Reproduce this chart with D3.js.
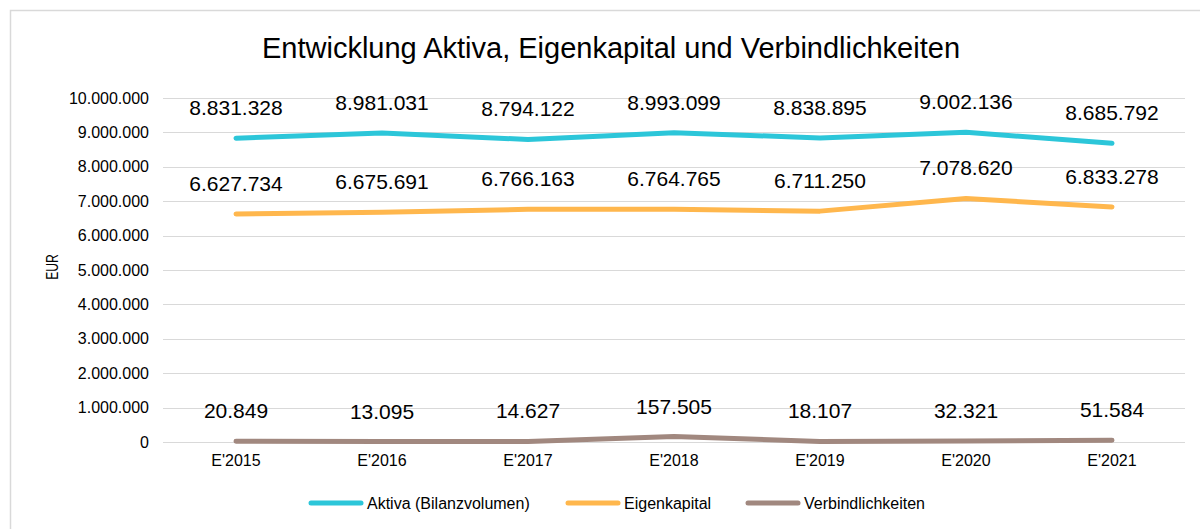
<!DOCTYPE html>
<html>
<head>
<meta charset="utf-8">
<script src="https://cdn.jsdelivr.net/npm/d3@7"></script>
<style>
    body { margin: 0; background: #fff; }
    svg { font-family: "Liberation Sans", Arial, sans-serif; display: block; }
    .grid line { stroke: #d9d9d9; stroke-width: 1; }
    .axis text { fill: #000; font-size: 16px; font-family: "Liberation Sans", Arial, sans-serif; }
</style>
</head>
<body>
<div id="chart-area"></div>
<script>
// Data
let categories = ["E'2015", "E'2016", "E'2017", "E'2018", "E'2019", "E'2020", "E'2021"];
let aktiva = [8831328, 8981031, 8794122, 8993099, 8838895, 9002136, 8685792];
let eigenkapital = [6627734, 6675691, 6766163, 6764765, 6711250, 7078620, 6833278];
let verbindlichkeiten = [20849, 13095, 14627, 157505, 18107, 32321, 51584];
let yTicks = [0, 1000000, 2000000, 3000000, 4000000, 5000000, 6000000, 7000000, 8000000, 9000000, 10000000];

let seriesNames = ["Aktiva (Bilanzvolumen)", "Eigenkapital", "Verbindlichkeiten"];
let seriesColors = ["#2cc6d9", "#ffb74d", "#a1887f"];

let series = [aktiva, eigenkapital, verbindlichkeiten].map(function (values, i) {
    return {name: seriesNames[i], color: seriesColors[i], values: values};
});

// SVG drawing area
let totalWidth = 1200, totalHeight = 529;
let margin = {top: 98, right: 15, bottom: 87, left: 163};
let width = totalWidth - margin.left - margin.right,
    height = totalHeight - margin.top - margin.bottom;

let root = d3.select("#chart-area").append("svg")
    .attr("width", totalWidth)
    .attr("height", totalHeight);

// chart border
root.append("rect")
    .attr("x", 10.5)
    .attr("y", 10.5)
    .attr("width", 1300)
    .attr("height", 600)
    .attr("fill", "none")
    .attr("stroke", "#d9d9d9")
    .attr("stroke-width", 1.5);

root.append("text")
    .attr("x", 611)
    .attr("y", 58)
    .attr("text-anchor", "middle")
    .attr("font-size", "29px")
    .text("Entwicklung Aktiva, Eigenkapital und Verbindlichkeiten");

let svg = root.append("g")
    .attr("transform", "translate(" + margin.left + "," + margin.top + ")");

// German number format
let locale = d3.formatLocale({decimal: ",", thousands: ".", grouping: [3], currency: ["", "€"]});
let fmt = locale.format(",d");

// Scales
let x = d3.scaleBand()
    .domain(categories)
    .range([0, width]);

let y = d3.scaleLinear()
    .domain([0, 10000000])
    .range([height, 0]);

// Gridlines
svg.append("g")
    .attr("class", "grid")
    .selectAll("line")
    .data(yTicks)
    .enter().append("line")
    .attr("x1", 0)
    .attr("x2", width)
    .attr("y1", d => Math.round(y(d)) + 0.5)
    .attr("y2", d => Math.round(y(d)) + 0.5);

// Axes
let yAxis = d3.axisLeft(y)
    .tickValues(yTicks)
    .tickFormat(fmt)
    .tickSize(0)
    .tickPadding(14);

let yAxisGroup = svg.append("g")
    .attr("class", "axis")
    .call(yAxis);
yAxisGroup.select(".domain").remove();

let xAxis = d3.axisBottom(x)
    .tickSize(0)
    .tickPadding(13);

let xAxisGroup = svg.append("g")
    .attr("class", "axis")
    .attr("transform", "translate(0," + height + ")")
    .call(xAxis);
xAxisGroup.select(".domain").remove();

// Y axis title (narrow glyphs like the original)
root.append("text")
    .attr("transform", "translate(58,267) rotate(-90) scale(0.76,1)")
    .attr("text-anchor", "middle")
    .attr("font-size", "16px")
    .text("EUR");

// Lines
let line = d3.line()
    .x((d, i) => x(categories[i]) + x.bandwidth() / 2)
    .y(d => y(d));

svg.selectAll(".line")
    .data(series)
    .enter().append("path")
    .attr("class", "line")
    .attr("fill", "none")
    .attr("stroke", d => d.color)
    .attr("stroke-width", 5)
    .attr("stroke-linecap", "round")
    .attr("stroke-linejoin", "round")
    .attr("d", d => line(d.values));

// Data labels
series.forEach(function (s) {
    svg.selectAll(null)
        .data(s.values)
        .enter().append("text")
        .attr("x", (d, i) => x(categories[i]) + x.bandwidth() / 2)
        .attr("y", d => y(d) - 23)
        .attr("text-anchor", "middle")
        .attr("font-size", "21px")
        .text(d => fmt(d));
});

// Legend
let legendX = [308, 565, 745];
let legend = root.selectAll(".legend")
    .data(series)
    .enter().append("g")
    .attr("class", "legend")
    .attr("transform", (d, i) => "translate(" + legendX[i] + ",503)");

legend.append("line")
    .attr("x1", 3)
    .attr("x2", 53)
    .attr("stroke", d => d.color)
    .attr("stroke-width", 5)
    .attr("stroke-linecap", "round");

legend.append("text")
    .attr("x", 59)
    .attr("y", 6)
    .attr("font-size", "16px")
    .text(d => d.name);
</script>
</body>
</html>
